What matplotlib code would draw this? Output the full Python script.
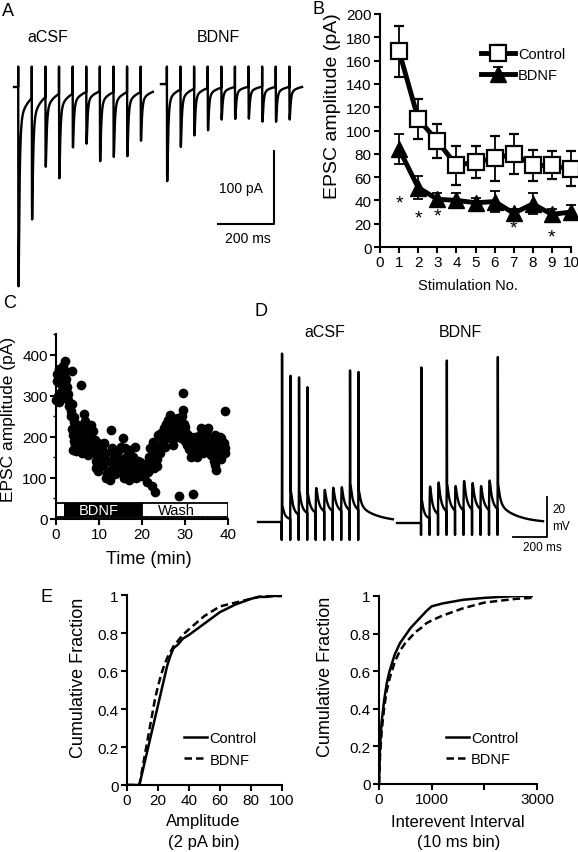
import numpy as np
import matplotlib
matplotlib.use('Agg')
import matplotlib.pyplot as plt
from matplotlib.patches import Rectangle

plt.rcParams['font.family'] = ['Liberation Sans', 'DejaVu Sans']

# ---- data ----
# A: representative EPSC trains, peak amplitude per stimulus (pA)
a_amp_acsf = [273, 167, 96, 116, 74, 71, 96, 89, 88, 67]
a_amp_bdnf = [133, 79, 64, 58, 44, 44, 44, 48, 48, 45]

# B: mean EPSC amplitude per stimulus
stim_no = [1, 2, 3, 4, 5, 6, 7, 8, 9, 10]
b_ctrl = [168, 110, 91, 70, 73, 76, 80, 70, 70, 67]
b_ctrl_err = [22, 17, 15, 17, 14, 19, 17, 13, 12, 15]
b_bdnf = [84, 51, 41, 40, 38, 39, 29, 37, 28, 30]
b_bdnf_err = [13, 10, 5, 6, 4, 9, 4, 9, 5, 6]
b_sig_stim = [1, 2, 3, 7, 9]
b_sig_y = [38, 25, 27, 16, 9]

# C: EPSC amplitude time course (min, pA)
c_time = [0.1, 0.2, 0.3, 0.4, 0.5, 0.6, 0.7, 0.8, 0.9, 1.0, 1.1, 1.2, 1.3, 1.4, 1.5, 1.6, 1.7, 1.8, 1.9, 2.0,
          2.1, 2.2, 2.3, 2.4, 2.5, 2.6, 2.7, 2.9, 3.0, 3.2, 3.4, 3.5, 3.7, 3.7, 3.8, 3.9, 4.0, 4.0, 4.1, 4.2,
          4.3, 4.4, 4.5, 4.6, 4.7, 4.8, 4.9, 5.0, 5.2, 5.2, 5.3, 5.5, 5.6, 5.7, 5.8, 5.9, 6.0, 6.1, 6.3, 6.4,
          6.5, 6.7, 6.8, 7.0, 7.1, 7.3, 7.5, 7.6, 7.8, 8.0, 8.2, 8.4, 8.6, 8.8, 9.0, 9.0, 9.2, 9.4, 9.6, 9.8,
          9.8, 10.0, 10.2, 10.4, 10.6, 10.8, 11.0, 11.2, 11.3, 11.5, 11.7, 11.9, 12.1, 12.3, 12.5, 12.7, 12.9,
          13.0, 13.2, 13.3, 13.5, 13.6, 13.8, 14.0, 14.1, 14.3, 14.5, 14.7, 14.9, 15.1, 15.3, 15.5, 15.6, 15.6,
          15.8, 16.0, 16.2, 16.4, 16.6, 16.8, 17.0, 17.2, 17.4, 17.6, 17.8, 18.0, 18.2, 18.4, 18.4, 18.6, 18.8,
          19.0, 19.2, 19.5, 19.7, 20.0, 20.3, 20.5, 20.7, 21.0, 21.2, 21.5, 21.7, 21.9, 22.1, 22.3, 22.5, 22.6,
          22.7, 22.9, 23.1, 23.2, 23.4, 23.6, 23.8, 24.0, 24.2, 24.4, 24.6, 24.8, 25.0, 25.2, 25.4, 25.6, 25.8,
          26.1, 26.4, 26.5, 26.8, 26.8, 27.0, 27.2, 27.4, 27.6, 27.8, 28.0, 28.2, 28.4, 28.7, 28.8, 29.1, 29.3,
          29.5, 29.5, 29.7, 29.9, 30.1, 30.3, 30.5, 30.7, 30.9, 31.1, 31.3, 31.5, 31.5, 31.9, 32.1, 32.4, 32.6,
          32.9, 33.1, 33.4, 33.6, 33.8, 34.0, 34.3, 34.6, 34.9, 35.1, 35.3, 35.3, 35.6, 35.9, 36.1, 36.1, 36.4,
          36.7, 36.9, 36.9, 37.2, 37.3, 37.5, 37.7, 38.0, 38.2, 38.4, 38.4, 38.7, 39.0, 39.2, 39.2, 39.4]
c_amp = [290, 335, 352, 300, 290, 364, 340, 285, 330, 350, 310, 364, 345, 357, 325, 372, 340, 318, 350, 385,
         360, 330, 300, 340, 320, 305, 290, 303, 275, 280, 262, 250, 360, 279, 220, 205, 218, 168, 190, 235,
         247, 200, 180, 215, 165, 197, 175, 205, 229, 168, 190, 200, 180, 327, 210, 209, 160, 195, 175, 256,
         220, 238, 200, 192, 175, 210, 156, 185, 200, 170, 229, 190, 213, 175, 192, 160, 140, 125, 130, 185,
         116, 170, 144, 165, 150, 175, 128, 185, 160, 140, 99, 110, 140, 105, 95, 120, 217,
         172, 160, 139, 125, 155, 110, 150, 115, 130, 165, 145, 125, 175, 140, 110, 196, 119,
         100, 172, 150, 147, 130, 110, 95, 168, 125, 139, 150, 105, 125, 176, 119, 100, 130,
         140, 115, 139, 105, 115, 123, 135, 110, 125, 90, 115, 150, 172, 135, 80, 160, 188,
         123, 145, 65, 170, 147, 130, 204, 180, 160, 210, 196, 185, 221, 200, 175, 230, 210,
         241, 196, 253, 249, 217, 230, 180, 205, 229, 200, 205, 240, 245, 57, 215, 196, 250,
         307, 266, 230, 225, 190, 210, 180, 205, 170, 200, 165, 180, 151, 61, 185, 200, 168,
         150, 175, 188, 205, 221, 180, 160, 196, 215, 175, 221, 164, 190, 200, 188, 155, 170,
         140, 205, 131, 160, 119, 190, 180, 150, 200, 196, 147, 175, 185, 262, 172, 160]
c_bdnf_on = 2
c_bdnf_off = 20
c_end = 40

# D: representative voltage responses (mV above rest)
d_epsp_acsf = [8, 14, 12, 10, 12.5, 11, 12, 12, 13.5, 10]
d_spike_stim_acsf = [1, 2, 3, 4, 9, 10]
d_spike_mv_acsf = [77, 59, 58, 54, 58, 60]
d_epsp_bdnf = [12, 16, 16, 14, 12.5, 15, 13.5, 12, 15, 12.5]
d_spike_stim_bdnf = [1, 4, 10]
d_spike_mv_bdnf = [67, 63, 65]

# E: cumulative distributions
e_amp_x = [0, 8, 10, 12, 14, 16, 18, 20, 22, 24, 26, 28, 30, 33, 36, 40, 45, 50, 55, 60, 65, 70, 75, 80, 85, 90, 95, 100]
e_amp_ctrl = [0, 0, 0.07, 0.14, 0.21, 0.28, 0.35, 0.42, 0.49, 0.56, 0.63, 0.68, 0.72, 0.74, 0.77, 0.79, 0.82, 0.85,
              0.88, 0.91, 0.93, 0.95, 0.965, 0.98, 0.99, 0.99, 0.995, 0.995]
e_amp_bdnf = [0, 0, 0.09, 0.18, 0.27, 0.36, 0.45, 0.52, 0.58, 0.63, 0.67, 0.70, 0.73, 0.76, 0.79, 0.82, 0.855, 0.89,
              0.915, 0.94, 0.95, 0.96, 0.97, 0.98, 0.99, 0.995, 0.995, 0.995]
e_iei_x = [0, 20, 50, 100, 150, 200, 300, 400, 500, 600, 700, 800, 900, 1000, 1200, 1400, 1600, 1800, 2000, 2300, 2600, 2900]
e_iei_ctrl = [0, 0.2, 0.33, 0.45, 0.54, 0.6, 0.69, 0.75, 0.79, 0.83, 0.86, 0.89, 0.92, 0.945, 0.96, 0.97, 0.98,
              0.985, 0.99, 0.995, 1.0, 1.0]
e_iei_bdnf = [0, 0.15, 0.28, 0.41, 0.5, 0.56, 0.65, 0.71, 0.75, 0.78, 0.81, 0.83, 0.855, 0.87, 0.895, 0.915, 0.935,
              0.95, 0.965, 0.975, 0.985, 0.99]

W, H = 578, 853
fig = plt.figure(figsize=(W / 100, H / 100), dpi=100)


def px_axes(x0, y0, x1, y1):
    return fig.add_axes([x0 / W, 1 - y1 / H, (x1 - x0) / W, (y1 - y0) / H])


def ftext(x, y, s, size, **kw):
    kw.setdefault('ha', 'center')
    kw.setdefault('va', 'center')
    fig.text(x / W, 1 - y / H, s, fontsize=size, **kw)


def style_axes(ax, lw=1.5):
    for side in ['top', 'right']:
        ax.spines[side].set_visible(False)
    for side in ['left', 'bottom']:
        ax.spines[side].set_linewidth(lw)
    ax.tick_params(direction='out', length=4, width=lw, pad=2)


def kernel_peak(f):
    d = np.arange(0.01, 200, 0.01)
    return f(d).max()


def epsc_kernel(d):
    return (1 - np.exp(-d / 0.6)) * (0.88 * np.exp(-d / 3.5) + 0.12 * np.exp(-d / 40))


def epsp_kernel(d):
    return (1 - np.exp(-d / 1.5)) * (0.8 * np.exp(-d / 12) + 0.2 * np.exp(-d / 110))


def build_trace(t0, t1, stim0, interval, amps, kern, sign, art, spikes=None):
    t = np.arange(t0, t1, 0.25)
    y = np.zeros_like(t)
    kp = kernel_peak(kern)
    stims = stim0 + interval * np.arange(len(amps))
    for ts, a in zip(stims, amps):
        d = t - ts
        m = d > 0
        y[m] += sign * a * kern(d[m]) / kp
    if spikes is not None:
        for n, h in zip(*spikes):
            d = t - stims[n - 1]
            y += h * np.exp(-((d - 2.0) / 0.5) ** 2)
    for ts in stims:
        y[np.argmin(np.abs(t - ts))] = art
    return t, y


# ---- A: EPSC traces ----
A_PX_MS, A_PX_PA, A_BASE = 0.28, 0.73, 88
axA = px_axes(0, 40, 310, 300)
axA.set_xlim(0, 310 / A_PX_MS)
axA.set_ylim(-(300 - A_BASE) / A_PX_PA, (A_BASE - 40) / A_PX_PA)
axA.axis('off')
t, y = build_trace(50, 546, 65, 48.6, a_amp_acsf, epsc_kernel, -1, 28)
axA.plot(t, y, color='black', lw=1.7)
t, y = build_trace(575, 1079, 596, 48.6, a_amp_bdnf, epsc_kernel, -1, 24)
axA.plot(t, y + 4, color='black', lw=1.7)
axA.plot([778.6, 978.6, 978.6], [-187.7, -187.7, -87.7], color='black', lw=1.5)
ftext(8, 11, 'A', 13)
ftext(48, 38, 'aCSF', 11.5)
ftext(218, 38, 'BDNF', 11.5)
ftext(241, 189, '100 pA', 10)
ftext(248, 239, '200 ms', 10)

# ---- B: EPSC amplitude vs stimulus ----
axB = px_axes(380, 15, 571, 248)
axB.errorbar(stim_no, b_ctrl, yerr=b_ctrl_err, color='black', lw=3.5, elinewidth=1.3, capsize=3.5,
             capthick=1.3, marker='s', ms=11, mfc='white', mec='black', mew=1.6, label='Control',
             clip_on=False, zorder=3)
axB.errorbar(stim_no, b_bdnf, yerr=b_bdnf_err, color='black', lw=3.5, elinewidth=1.3, capsize=3.5,
             capthick=1.3, marker='^', ms=12, mfc='black', mec='black', label='BDNF',
             clip_on=False, zorder=3)
for xs, ys in zip(b_sig_stim, b_sig_y):
    axB.text(xs, ys, '*', fontsize=14, ha='center', va='center')
axB.set_xlim(0, 10)
axB.set_ylim(0, 200)
axB.set_xticks(range(0, 11))
axB.set_yticks(range(0, 201, 20))
style_axes(axB)
axB.tick_params(labelsize=11)
leg = axB.legend(loc='upper right', bbox_to_anchor=(1.0, 0.885), frameon=False, fontsize=10.5,
                 handlelength=2.3, handletextpad=0.2, labelspacing=0.5, borderaxespad=0)
ftext(319, 10, 'B', 13)
ftext(333, 106, 'EPSC amplitude (pA)', 14, rotation=90)
ftext(468, 286, 'Stimulation No.', 10.5)

# ---- C: time course ----
axC = px_axes(56, 335, 228, 520)
axC.plot(c_time, c_amp, 'o', color='black', ms=7, mew=0, clip_on=False)
axC.add_patch(Rectangle((0, 4), c_bdnf_on, 34, facecolor='white', edgecolor='black', lw=1.3))
axC.add_patch(Rectangle((c_bdnf_on, 4), c_bdnf_off - c_bdnf_on, 34, facecolor='black', edgecolor='black', lw=1.3))
axC.add_patch(Rectangle((c_bdnf_off, 4), c_end - c_bdnf_off, 34, facecolor='white', edgecolor='black', lw=1.3))
axC.text((c_bdnf_on + c_bdnf_off) / 2 - 1, 21, 'BDNF', color='white', fontsize=10.5, ha='center', va='center')
axC.text((c_bdnf_off + c_end) / 2 - 2, 21, 'Wash', color='black', fontsize=10.5, ha='center', va='center')
axC.set_xlim(0, 40)
axC.set_ylim(0, 450)
axC.set_xticks(range(0, 41, 10))
axC.set_xticks(range(0, 41, 1), minor=True)
axC.set_yticks(range(0, 401, 100))
axC.set_yticks(range(0, 451, 50), minor=True)
style_axes(axC)
axC.tick_params(which='minor', length=2.5, width=1.0)
axC.tick_params(axis='x', which='minor', direction='in')
axC.tick_params(labelsize=11)
ftext(10, 303, 'C', 13)
ftext(9, 419, 'EPSC amplitude (pA)', 12.5, rotation=90)
ftext(149, 559, 'Time (min)', 13)

# ---- D: voltage traces ----
D_PX_MS, D_PX_MV, D_BASE = 0.17, 2.0, 523
axD = px_axes(250, 300, 578, 560)
axD.set_xlim(0, 328 / D_PX_MS)
axD.set_ylim(-(560 - D_BASE) / D_PX_MV, (D_BASE - 300) / D_PX_MV)
axD.axis('off')
t, y = build_trace(47, 841, 186.5, 50, d_epsp_acsf, epsp_kernel, 1, -9,
                   (d_spike_stim_acsf, d_spike_mv_acsf))
axD.plot(t, y, color='black', lw=1.7)
t, y = build_trace(865, 1724, 1006, 50, d_epsp_bdnf, epsp_kernel, 1, -6,
                   (d_spike_stim_bdnf, d_spike_mv_bdnf))
axD.plot(t, y - 0.5, color='black', lw=1.7)
axD.plot([1547, 1747, 1747], [-7.5, -7.5, 12.5], color='black', lw=1.3)
ftext(261, 311, 'D', 13)
ftext(325, 333, 'aCSF', 11.5)
ftext(460, 333, 'BDNF', 11.5)
ftext(552, 510, '20', 8.5, ha='left')
ftext(552, 527, 'mV', 8.5, ha='left')
ftext(542, 548, '200 ms', 8.5)

# ---- E: cumulative distributions ----
axE1 = px_axes(127, 596, 282, 786)
axE1.plot(e_amp_x, e_amp_ctrl, color='black', lw=1.8, label='Control')
axE1.plot(e_amp_x, e_amp_bdnf, color='black', lw=1.8, ls=(0, (3, 1.6)), label='BDNF')
axE1.set_xlim(0, 100)
axE1.set_ylim(0, 1)
axE1.set_xticks(range(0, 101, 20))
axE1.set_yticks([0, 0.2, 0.4, 0.6, 0.8, 1])
axE1.set_yticklabels(['0', '0.2', '0.4', '0.6', '0.8', '1'])
style_axes(axE1)
axE1.tick_params(labelsize=11)
axE1.legend(loc='center left', bbox_to_anchor=(0.33, 0.19), frameon=False, fontsize=10.5,
            handlelength=1.6, handletextpad=0.15, labelspacing=0.5, borderaxespad=0)

axE2 = px_axes(379, 597, 537, 785)
axE2.plot(e_iei_x, e_iei_ctrl, color='black', lw=1.8, label='Control')
axE2.plot(e_iei_x, e_iei_bdnf, color='black', lw=1.8, ls=(0, (3, 1.6)), label='BDNF')
axE2.set_xlim(0, 3000)
axE2.set_ylim(0, 1)
axE2.set_xticks([0, 1000, 2000, 3000])
axE2.set_xticklabels(['0', '1000', '', '3000'])
axE2.set_yticks([0, 0.2, 0.4, 0.6, 0.8, 1])
axE2.set_yticklabels(['0', '0.2', '0.4', '0.6', '0.8', '1'])
style_axes(axE2)
axE2.tick_params(labelsize=11)
axE2.legend(loc='center left', bbox_to_anchor=(0.385, 0.19), frameon=False, fontsize=10.5,
            handlelength=1.6, handletextpad=0.15, labelspacing=0.5, borderaxespad=0)

ftext(47, 598, 'E', 13)
ftext(78, 678, 'Cumulative Fraction', 13, rotation=90)
ftext(203, 822, 'Amplitude', 12)
ftext(204, 843, '(2 pA bin)', 12)
ftext(326, 677, 'Cumulative Fraction', 13, rotation=90)
ftext(458, 823, 'Interevent Interval', 12)
ftext(459, 843, '(10 ms bin)', 12)

fig.savefig('out.png', dpi=100)
